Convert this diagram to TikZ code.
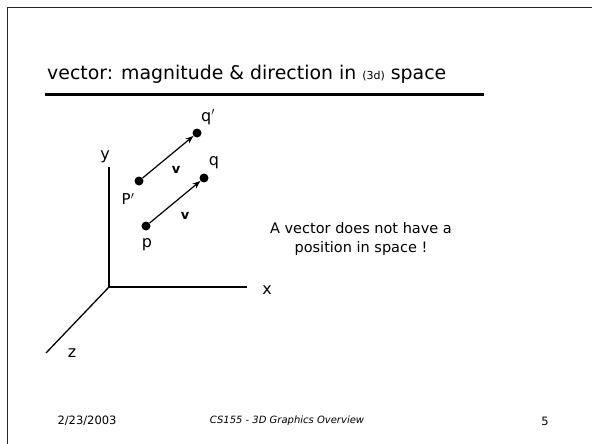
\documentclass[tikz,border=0pt]{standalone}
\usepackage{fontspec}
\setmainfont{DejaVu Sans}
\usetikzlibrary{arrows.meta}
\begin{document}
\begin{tikzpicture}[x=1pt,y=-1pt,
  dot/.style={circle,fill=black,inner sep=0pt,minimum size=9pt},
  lbl/.style={inner sep=0pt,font=\fontsize{16}{18}\selectfont},
  axis/.style={line width=1.3pt},
  vec/.style={line width=1.2pt,-{Stealth[length=8pt,width=6pt]}},
  foot/.style={inner sep=0pt,font=\fontsize{11.5}{13}\selectfont}]
\useasboundingbox (0,0) rectangle (592,444);
\fill[white] (0,0) rectangle (592,444);
% frame
\draw[line width=1.8pt,black!85] (7.5,444) -- (7.5,7.5) -- (592,7.5);
% title
\node[anchor=base west,inner sep=0pt,font=\fontsize{18.9}{22}\selectfont] (title) at (47,80)
  {vector: magnitude \& direction in {\fontsize{11}{12}\selectfont(3d)} space};
\draw[line width=3pt] (45,95) -- (484,95);
% axes
\coordinate (O) at (109,287);
\coordinate (Ytop) at (109,167);
\coordinate (Xend) at (247,287);
\coordinate (Zend) at (46,353);
\draw[axis] (Ytop) -- (O) -- (Xend);
\draw[axis] (O) -- (Zend);
\node[lbl] (ylab) at (105,157) {y};
\node[lbl] (xlab) at (267,290) {x};
\node[lbl] (zlab) at (72,353) {z};
% points
\node[dot] (pp) at (139,181) {};
\node[dot] (qp) at (197,133) {};
\node[dot] (p) at (146,226) {};
\node[dot] (q) at (204,178) {};
\draw[vec] (pp) -- (qp);
\draw[vec] (p) -- (q);
\node[lbl] (qplab) at (208,117) {q$'$};
\node[lbl,font=\fontsize{15}{17}\selectfont] (pplab) at (128,199) {P$'$};
\node[lbl] (qlab) at (214,163) {q};
\node[lbl] (plab) at (147,245) {p};
\node[lbl,font=\bfseries\fontsize{13}{15}\selectfont] (v1) at (176,170) {v};
\node[lbl,font=\bfseries\fontsize{13}{15}\selectfont] (v2) at (185,216) {v};
% note
\node[align=center,inner sep=0pt,font=\fontsize{14.5}{19}\selectfont] (note) at (361,239)
  {A vector does not have a\\position in space !};
% footer
\node[foot] (date) at (87,421) {2/23/2003};
\node[foot,font=\itshape\fontsize{10}{12}\selectfont] (course) at (287,421) {CS155 - 3D Graphics Overview};
\node[foot] (num) at (545,421) {5};
\end{tikzpicture}
\end{document}
